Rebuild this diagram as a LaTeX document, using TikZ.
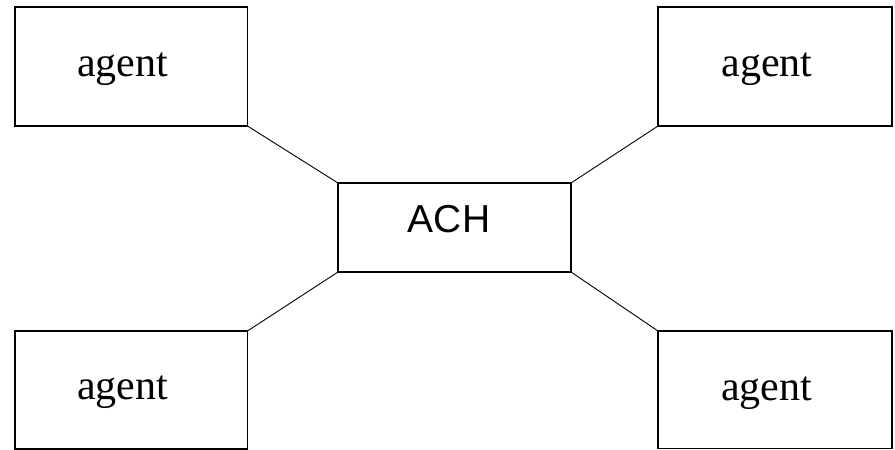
\documentclass[tikz,border=0pt]{standalone}
\usepackage{fontspec}
\setmainfont{Liberation Serif}
\newfontfamily\hubfont{Liberation Sans}
\begin{document}
\begin{tikzpicture}[x=1bp,y=-1bp,
  box/.style={draw=black,line width=1.6bp,inner sep=0pt,outer sep=0pt},
  agentlabel/.style={inner sep=0pt,anchor=base,font=\fontsize{42bp}{48bp}\selectfont},
  hublabel/.style={inner sep=0pt,anchor=base,font=\hubfont\fontsize{39bp}{45bp}\selectfont},
  link/.style={draw=black,line width=0.9bp}]
\useasboundingbox (0,0) rectangle (895,450);
% agent boxes at the four corners and the ACH hub in the middle
\node[box,minimum width=232.5bp,minimum height=119bp] (tl) at (131.25,66.5) {};
\node[box,minimum width=233.7bp,minimum height=119bp] (tr) at (774.85,66.5) {};
\node[box,minimum width=232.5bp,minimum height=118bp] (bl) at (131.25,390) {};
\node[box,minimum width=233.7bp,minimum height=117.5bp] (br) at (774.85,389.75) {};
\node[box,minimum width=233bp,minimum height=89bp] (ach) at (454.5,227.5) {};
% labels
\node[agentlabel] (tltext) at (122.5,77) {agent};
\node[agentlabel] (trtext) at (767,77) {agent};
\node[agentlabel] (bltext) at (122.5,399) {agent};
\node[agentlabel] (brtext) at (766.5,400) {agent};
\node[hublabel] (achtext) at (449,233) {ACH};
% links from each agent to the hub
\draw[link] (tl.south east) -- (ach.north west);
\draw[link] (tr.south west) -- (ach.north east);
\draw[link] (bl.north east) -- (ach.south west);
\draw[link] (br.north west) -- (ach.south east);
\end{tikzpicture}
\end{document}
